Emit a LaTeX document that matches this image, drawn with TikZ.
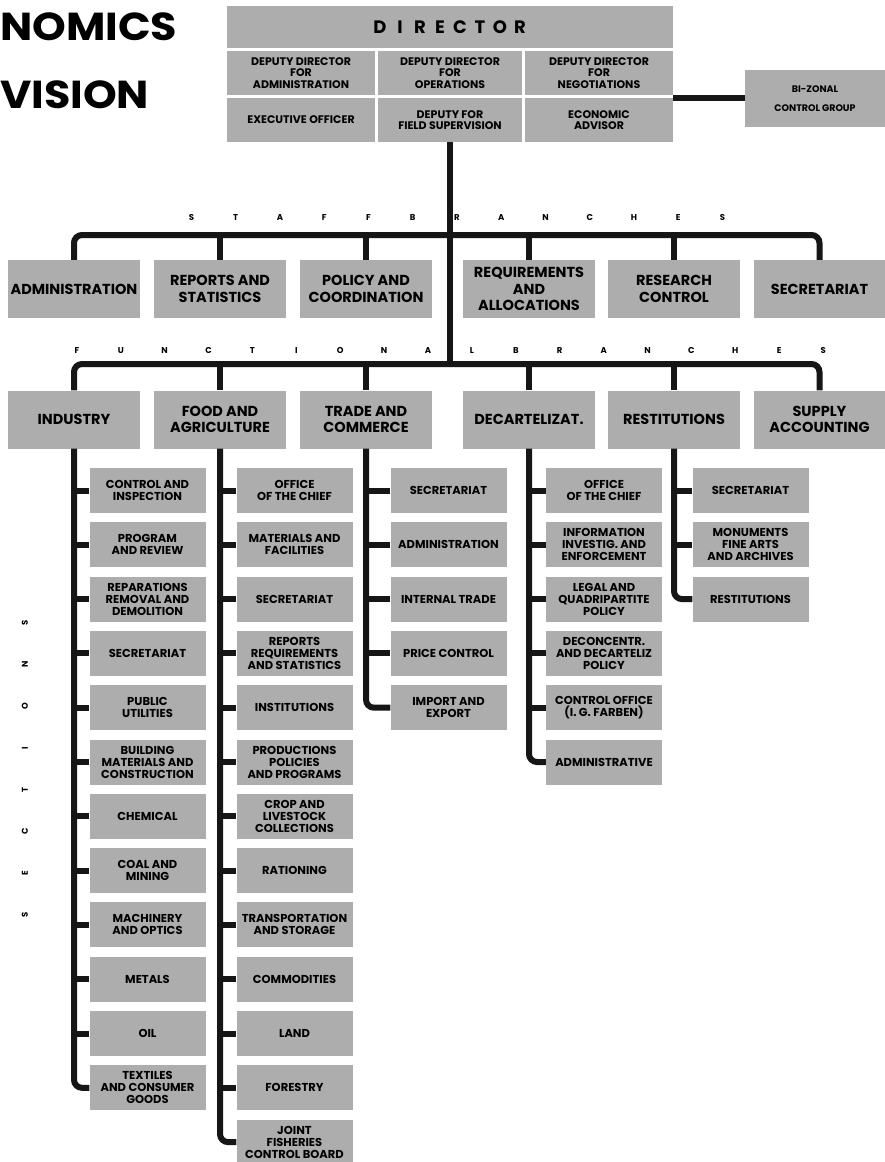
\documentclass[tikz,border=0pt]{standalone}
\usepackage{fontspec}
\setmainfont{Poppins}

\definecolor{boxgray}{HTML}{ADADAD}
\definecolor{inkblack}{HTML}{161616}

\newcommand\spacedtext[2]{\def\spacedpitch{#1}\spacedloop#2\relax}
\def\spacedloop#1{\ifx#1\relax\else\makebox[\spacedpitch]{#1}\expandafter\spacedloop\fi}

\begin{document}
\begin{tikzpicture}[x=1pt, y=-1pt,
            cell/.style={fill=boxgray, inner sep=0pt, align=center, font=\bfseries\fontsize{11.5}{12}\selectfont},
            unit/.style={cell, minimum width=116pt, minimum height=45pt},
            dircell/.style={cell, minimum height=44pt, font=\bfseries\fontsize{11}{11.7}\selectfont},
            branch/.style={cell, minimum width=132pt, minimum height=58pt, font=\bfseries\fontsize{14.5}{16.7}\selectfont},
            spaced/.style={inner sep=0pt, font=\bfseries\fontsize{8.5}{8.5}\selectfont},
            heading/.style={anchor=base west, inner sep=0pt, font=\bfseries\fontsize{39}{39}\selectfont},
            link/.style={draw=inkblack, line width=6pt, rounded corners=8pt},
        ]
        \fill[white] (0,0) rectangle (885,1162);
        \useasboundingbox (0,0) rectangle (885,1162);

        \node[heading] (titletop) at (0,40) {\scalebox{1.1}[1]{NOMICS}};
        \node[heading] (titlebottom) at (0,108) {\scalebox{1.1}[1]{VISION}};

        \node[cell, minimum width=446pt, minimum height=42pt, font=\bfseries\fontsize{18}{18}\selectfont] (dir) at (450,27) {\spacedtext{20pt}{DIRECTOR}};
        \node[dircell, minimum width=148pt] (depadmin) at (301,73) {DEPUTY DIRECTOR\\FOR\\ADMINISTRATION};
        \node[dircell, minimum width=144pt] (depops) at (450,73) {DEPUTY DIRECTOR\\FOR\\OPERATIONS};
        \node[dircell, minimum width=148pt] (depneg) at (599,73) {DEPUTY DIRECTOR\\FOR\\NEGOTIATIONS};
        \node[dircell, minimum width=148pt] (execoff) at (301,120) {EXECUTIVE OFFICER};
        \node[dircell, minimum width=144pt] (depfield) at (450,120) {DEPUTY FOR\\FIELD SUPERVISION};
        \node[dircell, minimum width=148pt] (econadv) at (599,120) {ECONOMIC\\ADVISOR};
        \node[dircell, minimum width=140pt, minimum height=57pt, font=\bfseries\fontsize{9.5}{19}\selectfont] (bizonal) at (815,98.5) {BI-ZONAL\\CONTROL GROUP};
        \draw[link] (econadv.north east) -- (econadv.north east -| bizonal.west);

        \node[spaced] (stafflabel) at (457,218) {\spacedtext{44.25pt}{STAFFBRANCHES}};
        \node[branch] (sadmin) at (74,289) {ADMINISTRATION};
        \node[branch] (sreports) at (220,289) {REPORTS AND\\STATISTICS};
        \node[branch] (spolicy) at (366,289) {POLICY AND\\COORDINATION};
        \node[branch] (sreq) at (529,289) {REQUIREMENTS\\AND\\ALLOCATIONS};
        \node[branch] (sresearch) at (674,289) {RESEARCH\\CONTROL};
        \node[branch] (ssecr) at (819.5,289) {SECRETARIAT};

        \node[spaced] (funclabel) at (450,350) {\spacedtext{43.9pt}{FUNCTIONALBRANCHES}};
        \node[branch] (findustry) at (74,419.5) {INDUSTRY};
        \node[branch] (ffood) at (220,419.5) {FOOD AND\\AGRICULTURE};
        \node[branch] (ftrade) at (366,419.5) {TRADE AND\\COMMERCE};
        \node[branch] (fdecart) at (529,419.5) {DECARTELIZAT.};
        \node[branch] (frestit) at (674,419.5) {RESTITUTIONS};
        \node[branch] (fsupply) at (819.5,419.5) {SUPPLY\\ACCOUNTING};

        \coordinate (staffbar) at (450,235);
        \coordinate (funcbar) at (450,364);
        \draw[link] (depfield.south) -- (depfield.south |- funcbar);
        \draw[link] (sadmin.north) |- (staffbar) -| (ssecr.north);
        \foreach \b in {sreports, spolicy, sreq, sresearch}
            \draw[link] (\b.north) -- (\b.north |- staffbar);
        \draw[link] (findustry.north) |- (funcbar) -| (fsupply.north);
        \foreach \b in {ffood, ftrade, fdecart, frestit}
            \draw[link] (\b.north) -- (\b.north |- funcbar);

        \node[spaced, rotate=90] (seclabel) at (25,769) {\spacedtext{41.7pt}{SECTIONS}};

        \foreach \txt [count=\i] in {{CONTROL AND\\INSPECTION}, {PROGRAM\\AND REVIEW},
                {REPARATIONS\\REMOVAL AND\\DEMOLITION}, {SECRETARIAT}, {PUBLIC\\UTILITIES},
                {BUILDING\\MATERIALS AND\\CONSTRUCTION}, {CHEMICAL}, {COAL AND\\MINING},
                {MACHINERY\\AND OPTICS}, {METALS}, {OIL}, {TEXTILES\\AND CONSUMER\\GOODS}}
            \node[unit] (ind\i) at (147.5,{490.5+54.3*(\i-1)}) {\txt};
        \foreach \i in {1,...,11}
            \draw[link] (findustry.south |- ind\i.west) -- (ind\i.west);
        \draw[link] (findustry.south) |- (ind12.west);

        \foreach \txt [count=\i] in {{OFFICE\\OF THE CHIEF}, {MATERIALS AND\\FACILITIES}, {SECRETARIAT},
                {REPORTS\\REQUIREMENTS\\AND STATISTICS}, {INSTITUTIONS}, {PRODUCTIONS\\POLICIES\\AND PROGRAMS},
                {CROP AND\\LIVESTOCK\\COLLECTIONS}, {RATIONING}, {TRANSPORTATION\\AND STORAGE},
                {COMMODITIES}, {LAND}, {FORESTRY}, {JOINT\\FISHERIES\\CONTROL BOARD}}
            \node[unit] (food\i) at (294.5,{490.5+54.3*(\i-1)}) {\txt};
        \foreach \i in {1,...,12}
            \draw[link] (ffood.south |- food\i.west) -- (food\i.west);
        \draw[link] (ffood.south) |- (food13.west);

        \foreach \txt [count=\i] in {{SECRETARIAT}, {ADMINISTRATION}, {INTERNAL TRADE},
                {PRICE CONTROL}, {IMPORT AND\\EXPORT}}
            \node[unit] (trade\i) at (448.5,{490.5+54.3*(\i-1)}) {\txt};
        \foreach \i in {1,...,4}
            \draw[link] (ftrade.south |- trade\i.west) -- (trade\i.west);
        \draw[link] (ftrade.south) |- (trade5.west);

        \foreach \txt [count=\i] in {{OFFICE\\OF THE CHIEF}, {INFORMATION\\INVESTIG. AND\\ENFORCEMENT},
                {LEGAL AND\\QUADRIPARTITE\\POLICY}, {DECONCENTR.\\AND DECARTELIZ\\POLICY},
                {CONTROL OFFICE\\(I. G. FARBEN)}, {ADMINISTRATIVE}}
            \node[unit] (decart\i) at (604,{490.5+54.3*(\i-1)}) {\txt};
        \foreach \i in {1,...,5}
            \draw[link] (fdecart.south |- decart\i.west) -- (decart\i.west);
        \draw[link] (fdecart.south) |- (decart6.west);

        \foreach \txt [count=\i] in {{SECRETARIAT}, {MONUMENTS\\FINE ARTS\\AND ARCHIVES}, {RESTITUTIONS}}
            \node[unit] (restit\i) at (750.5,{490.5+54.3*(\i-1)}) {\txt};
        \foreach \i in {1,2}
            \draw[link] (frestit.south |- restit\i.west) -- (restit\i.west);
        \draw[link] (frestit.south) |- (restit3.west);
    \end{tikzpicture}
\end{document}
